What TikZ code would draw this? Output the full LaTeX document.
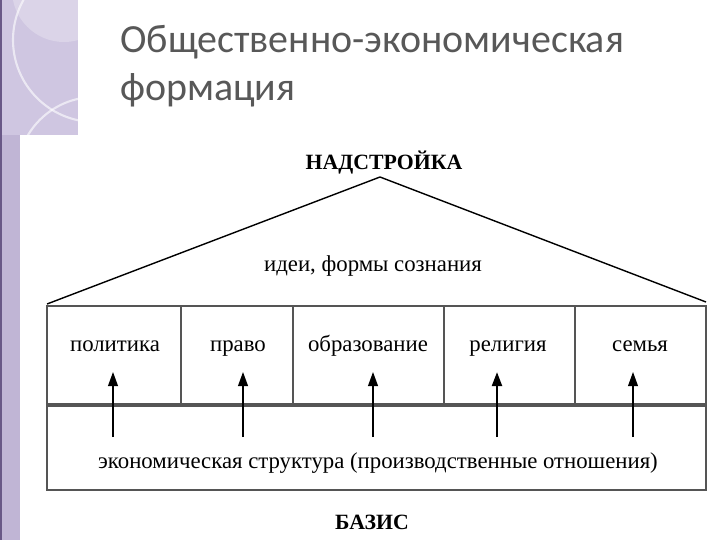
\documentclass[tikz,border=0pt]{standalone}
\usepackage{fontspec}
\setmainfont{Liberation Serif}
\newfontfamily\titlefont{Carlito}
\usetikzlibrary{arrows.meta}
\definecolor{lilac}{RGB}{192,181,213}
\definecolor{lilacpale}{RGB}{207,198,225}
\definecolor{lilacdark}{RGB}{105,88,135}
\definecolor{titlegray}{RGB}{88,88,88}
\definecolor{framegray}{RGB}{85,85,85}

\begin{document}
\begin{tikzpicture}[x=0.025cm,y=-0.025cm,
    lbl/.style={font=\fontsize{16.2}{18}\selectfont,text height=1.6ex,text depth=0.4ex},
    headlbl/.style={font=\fontsize{15.5}{18}\selectfont\bfseries},
    up/.style={-{Triangle[length=10pt,width=7pt]},line width=1.1pt},
    frame/.style={draw=framegray,line width=0.9pt}]
  \useasboundingbox[fill=white] (0,0) rectangle (720,540);

  % lilac margin
  \fill[lilac] (0,0) rectangle (20,540);
  \fill[lilacpale] (0,0) rectangle (78,135);
  \begin{scope}
    \clip (0,0) rectangle (78,135);
    \fill[white,opacity=0.25] (64,-10) circle (52);
    \draw[white,opacity=0.6,line width=1.5pt] (95,40) circle (82);
    \draw[white,opacity=0.6,line width=1.5pt] (95,175) circle (78);
  \end{scope}
  \fill[lilacdark] (0,0) rectangle (2,540);

  % title
  \node[anchor=base west,text=titlegray,font=\titlefont\fontsize{28.4}{34}\selectfont,inner sep=0]
    (title1) at (120,52) {Общественно-экономическая};
  \node[anchor=base west,text=titlegray,font=\titlefont\fontsize{28.4}{34}\selectfont,inner sep=0]
    (title2) at (120,100) {формация};

  % roof and frame
  \coordinate (apex) at (380,177);
  \coordinate (eaveL) at (47,304);
  \coordinate (eaveR) at (706,302);
  \coordinate (tl) at (47,306);
  \coordinate (tr) at (706,306);
  \coordinate (ml) at (47,405);
  \coordinate (mr) at (706,405);
  \coordinate (bl) at (47,490);
  \coordinate (br) at (706,490);
  \draw[line width=1pt] (eaveL) -- (apex) -- (eaveR);
  \draw[frame] (tl) -- (tr) -- (br) -- (bl) -- cycle;
  \draw[framegray,line width=2.6pt] (ml) -- (mr);
  \draw[frame] (181,306) -- (181,405);
  \draw[frame] (293,306) -- (293,405);
  \draw[frame] (444,306) -- (444,405);
  \draw[frame] (575,306) -- (575,405);

  % texts
  \node[headlbl] (roof) at (384,163) {НАДСТРОЙКА};
  \node[lbl] (ideas) at (373,268) {идеи, формы сознания};
  \node[lbl] (c1) at (115,348) {политика};
  \node[lbl] (c2) at (238,348) {право};
  \node[lbl] (c3) at (368,348) {образование};
  \node[lbl] (c4) at (508,348) {религия};
  \node[lbl] (c5) at (640,348) {семья};
  \node[lbl] (econ) at (378,465) {экономическая структура (производственные отношения)};
  \node[headlbl] (basis) at (372,522) {БАЗИС};

  % arrows
  \coordinate (b1) at (113,437); \coordinate (t1) at (113,372);
  \coordinate (b2) at (243,437); \coordinate (t2) at (243,372);
  \coordinate (b3) at (373,437); \coordinate (t3) at (373,372);
  \coordinate (b4) at (497,437); \coordinate (t4) at (497,372);
  \coordinate (b5) at (633,437); \coordinate (t5) at (633,372);
  \draw[up] (b1) -- (t1);
  \draw[up] (b2) -- (t2);
  \draw[up] (b3) -- (t3);
  \draw[up,line width=1.8pt] (b4) -- (t4);
  \draw[up,line width=0.9pt] (b5) -- (t5);
\end{tikzpicture}
\end{document}
